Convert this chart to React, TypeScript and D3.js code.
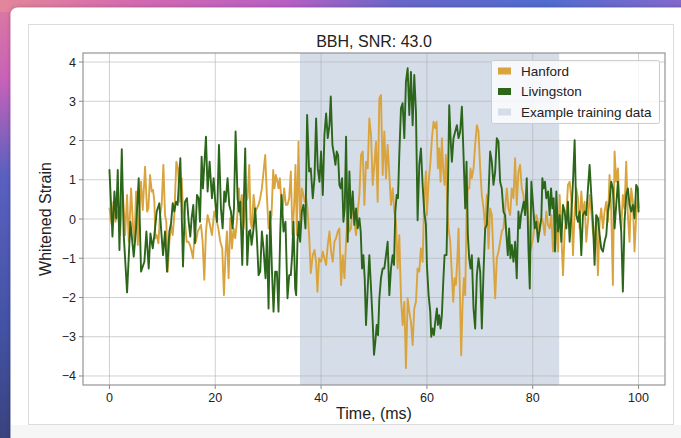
import React from 'react';
import * as d3 from 'd3';

// values (time in ms, whitened strain)
const hanfordT = [
  0, 0.44, 0.75, 1.13, 1.57, 2.01, 2.52, 2.96, 3.33, 3.65, 4.09, 4.47, 4.72, 5.03, 5.35, 5.66, 5.97, 6.29, 6.73, 7.11,
  7.36, 7.67, 7.99, 8.24, 8.49, 8.68, 8.93, 9.25, 9.56, 9.87, 10.19, 10.5, 10.75, 11.01, 11.32, 11.64, 11.95, 12.26, 12.64, 12.96,
  13.27, 13.65, 13.9, 14.28, 14.59, 14.91, 15.22, 15.53, 15.79, 16.04, 16.35, 16.67, 16.98, 17.3, 17.61, 17.92, 18.24, 18.55, 18.87, 19.37,
  19.81, 20.19, 20.57, 20.95, 21.32, 21.64, 21.95, 22.2, 22.52, 22.83, 23.15, 23.46, 23.78, 24.09, 24.47, 24.72, 25.03, 25.35, 25.73, 26.1,
  26.42, 26.67, 26.92, 27.24, 27.55, 27.87, 28.18, 28.49, 28.81, 29.12, 29.44, 29.75, 30.07, 30.38, 30.63, 30.95, 31.2, 31.45, 31.7, 31.95,
  32.2, 32.46, 32.71, 33.02, 33.34, 33.65, 33.97, 34.28, 34.59, 34.91, 35.16, 35.41, 35.73, 36.04, 36.36, 36.67, 36.92, 37.17, 37.42, 37.74,
  38.05, 38.43, 38.75, 39.06, 39.31, 39.62, 40.0, 40.32, 40.63, 40.95, 41.26, 41.58, 41.89, 42.2, 42.52, 42.83, 43.15, 43.46, 43.78, 44.09,
  44.41, 44.72, 45.03, 45.35, 45.66, 45.98, 46.29, 46.61, 46.92, 47.24, 47.55, 47.87, 48.18, 48.49, 48.81, 49.12, 49.44, 49.75, 50.07, 50.38,
  50.69, 51.01, 51.32, 51.64, 51.95, 52.27, 52.58, 52.9, 53.21, 53.53, 53.84, 54.15, 54.47, 54.78, 55.1, 55.41, 55.73, 56.04, 56.36, 56.67,
  56.98, 57.3, 57.61, 57.93, 58.24, 58.56, 58.87, 59.19, 59.5, 59.81, 60.0, 60.32, 60.63, 60.95, 61.26, 61.58, 61.83, 62.08, 62.33, 62.58,
  62.83, 63.09, 63.34, 63.59, 63.84, 64.09, 64.41, 64.72, 64.97, 65.22, 65.48, 65.73, 65.98, 66.23, 66.48, 66.73, 66.98, 67.24, 67.49, 67.74,
  67.99, 68.24, 68.49, 68.81, 69.12, 69.44, 69.75, 70.07, 70.38, 70.7, 71.01, 71.32, 71.64, 71.95, 72.27, 72.58, 72.9, 73.21, 73.53, 73.84,
  74.15, 74.47, 74.78, 75.1, 75.41, 75.73, 76.04, 76.36, 76.67, 76.98, 77.3, 77.61, 77.93, 78.24, 78.56, 78.87, 79.19, 79.5, 80.06, 80.37,
  80.69, 81.0, 81.32, 81.63, 81.95, 82.26, 82.57, 82.89, 83.2, 83.52, 83.83, 84.15, 84.46, 84.78, 85.09, 85.41, 85.72, 86.03, 86.35, 86.66,
  86.98, 87.29, 87.61, 87.92, 88.24, 88.55, 88.86, 89.18, 89.49, 89.81, 90.12, 90.44, 90.75, 91.07, 91.38, 91.69, 92.01, 92.32, 92.64, 92.95,
  93.27, 93.58, 93.9, 94.21, 94.52, 94.84, 95.15, 95.47, 95.78, 96.1, 96.41, 96.73, 97.04, 97.35, 97.67, 97.98, 98.3, 98.61, 98.93, 99.24,
  99.56, 99.87, 100,
];
const hanfordV = [
  0.27, -0.15, 0.44, -0.07, 0.19, -0.41, 0.7, -0.41, 0.61, -0.58, 0.78, -0.24, -0.58, 0.7, -0.66, 0.19, 0.95, 0.23, 1.33, 0.19,
  0.27, 1.12, 0.7, 0.74, 0.44, -0.49, -0.41, -0.62, 0.1, 0.36, 1.38, 0.1, -0.07, -1.34, -0.58, -0.15, -0.41, 0.1, 1.46, 1.29,
  0.44, 1.04, 0.19, -0.07, -0.58, -0.58, -0.66, -0.83, -1.0, -0.49, -0.58, -0.32, -0.24, -0.15, -0.58, -1.55, -0.32, 0.1, -0.07, -0.41,
  0.19, 0.02, -0.24, -0.58, -0.75, -1.94, -0.83, -0.32, -1.51, 0.02, -0.75, -0.24, -0.49, -0.07, 0.78, 0.1, 0.61, -0.24, 0.44, 0.53,
  1.38, -0.07, -0.24, 0.61, 0.19, 0.27, 0.36, 0.53, 0.78, 1.21, 1.63, 0.61, -0.24, -0.07, 0.1, 1.25, 0.78, 1.12, 0.99, 0.78,
  1.04, 0.53, 0.19, 0.78, 0.36, 0.36, 0.53, 1.21, -0.41, 0.36, 1.38, -0.41, 1.97, -0.15, 0.78, 0.61, 0.44, 0.53, 0.27, -0.41,
  -1.38, -0.92, -0.79, -1.09, -1.85, -1.0, -1.09, -0.83, -1.0, -1.17, -0.66, -0.32, -0.83, -1.09, -0.58, -0.49, -0.32, -0.24, -1.68, -0.92,
  -1.51, -0.58, 0.1, -0.32, -0.24, 0.53, -0.07, -0.41, 0.19, 0.61, 1.63, 1.72, 0.36, 1.46, 1.29, 2.56, 2.14, 0.87, 1.38, 1.97,
  0.44, 3.07, 3.16, 1.12, 2.23, 1.04, 1.89, 1.12, 0.36, 0.78, 0.19, -0.07, -1.26, -0.41, -2.02, -2.7, -2.11, -3.8, -2.02, -2.36,
  -2.62, -3.21, -2.28, -2.11, -1.26, -1.34, -0.75, -1.09, 0.53, 1.21, 0.1, 0.95, 1.38, 2.06, 2.48, 2.31, 2.48, 1.29, 1.8, 0.95,
  2.06, 1.21, 0.87, 1.63, 0.27, -0.24, -0.58, -1.43, -2.11, -1.51, -1.68, -1.09, -0.24, -1.85, -3.47, -2.19, -1.51, -1.94, 0.1, 0.78,
  0.78, 1.29, 1.04, 1.29, 1.89, 2.39, 2.23, 1.29, 0.61, 0.27, -0.24, 0.61, -0.75, 0.27, 0.1, -1.0, -2.02, -1.0, -0.83, -0.58,
  -0.32, -0.24, 0.27, 0.78, 0.27, 0.1, 0.78, 0.53, 1.55, 0.36, 1.21, 1.38, 0.78, 0.61, 0.1, 0.61, -0.07, -0.83, -0.49, -0.15,
  0.1, -0.07, -0.32, 0.02, -0.07, -0.41, 0.19, -0.15, -0.24, 0.1, -0.83, -0.58, -0.24, -0.83, 0.61, -0.41, -1.43, -0.32, 0.1, 0.87,
  0.95, 0.53, -0.92, 0.19, 0.78, 0.53, -0.24, 0.7, 0.1, 0.44, -0.58, -0.07, 0.61, 0.19, -0.32, -0.58, 0.1, -1.43, -0.07, 0.27,
  -0.24, 0.19, 0.44, -0.07, 1.12, 0.19, -1.68, 1.72, 0.95, 1.29, 0.27, -0.24, 0.61, 0.27, 1.46, 0.1, -0.58, 0.78, 0.44, -0.83,
  0.1, 0.61, 0.3,
];

const livingstonT = [
  0, 0.57, 0.94, 1.26, 1.57, 1.89, 2.33, 2.7, 3.33, 3.96, 4.59, 5.03, 5.53, 5.97, 6.6, 6.98, 7.42, 7.74, 8.18, 8.49,
  8.93, 9.43, 9.75, 10.13, 10.5, 10.88, 11.32, 11.64, 11.95, 12.26, 12.58, 12.89, 13.4, 13.9, 14.28, 14.65, 14.97, 15.28, 15.53, 15.85,
  16.16, 16.54, 16.86, 17.11, 17.42, 17.67, 18.24, 18.55, 18.93, 19.37, 19.69, 20.0, 20.32, 20.7, 21.07, 21.39, 21.7, 21.95, 22.33, 22.64,
  22.96, 23.27, 23.53, 23.84, 24.22, 24.47, 24.72, 25.1, 25.35, 25.66, 26.04, 26.36, 26.61, 26.86, 27.24, 27.55, 27.87, 28.18, 28.49, 28.81,
  29.12, 29.5, 29.75, 30.07, 30.38, 30.7, 31.01, 31.32, 31.64, 31.95, 32.27, 32.52, 32.9, 33.27, 33.65, 33.97, 34.28, 34.53, 34.78, 35.1,
  35.29, 35.54, 35.79, 36.04, 36.36, 36.67, 37.05, 37.36, 37.74, 38.05, 38.43, 38.75, 39.06, 39.37, 39.69, 40.0, 40.32, 40.63, 40.95, 41.26,
  41.58, 41.83, 42.14, 42.46, 42.71, 42.96, 43.21, 43.46, 43.71, 43.97, 44.22, 44.47, 44.72, 45.03, 45.35, 45.66, 45.98, 46.29, 46.61, 46.92,
  47.24, 47.49, 47.74, 47.99, 48.24, 48.49, 48.81, 49.12, 49.44, 49.75, 50.0, 50.25, 50.51, 50.76, 51.01, 51.32, 51.64, 51.95, 52.27, 52.58,
  52.9, 53.21, 53.53, 53.78, 54.03, 54.28, 54.53, 54.78, 55.1, 55.41, 55.73, 56.04, 56.36, 56.67, 56.98, 57.3, 57.61, 57.93, 58.24, 58.56,
  58.87, 59.19, 59.5, 59.81, 60.0, 60.32, 60.63, 60.82, 61.07, 61.32, 61.58, 61.89, 62.08, 62.33, 62.58, 62.83, 63.09, 63.34, 63.71, 63.97,
  64.22, 64.47, 64.72, 65.03, 65.35, 65.66, 65.98, 66.29, 66.61, 66.92, 67.24, 67.49, 67.74, 67.99, 68.24, 68.49, 68.81, 69.12, 69.44, 69.75,
  70.07, 70.38, 70.7, 71.01, 71.32, 71.64, 71.95, 72.27, 72.58, 72.9, 73.21, 73.53, 73.84, 74.15, 74.47, 74.78, 75.03, 75.29, 75.54, 75.79,
  76.04, 76.36, 76.67, 76.98, 77.3, 77.55, 77.8, 78.05, 78.3, 78.56, 78.87, 79.19, 79.44, 79.74, 80.06, 80.37, 80.69, 81.0, 81.32, 81.63,
  81.82, 82.07, 82.32, 82.57, 82.89, 83.2, 83.46, 83.71, 83.96, 84.21, 84.46, 84.78, 85.09, 85.41, 85.72, 86.03, 86.35, 86.66, 86.98, 87.29,
  87.61, 87.92, 88.24, 88.55, 88.86, 89.18, 89.49, 89.81, 90.12, 90.44, 90.75, 91.07, 91.38, 91.69, 92.01, 92.32, 92.64, 92.95, 93.27, 93.58,
  93.9, 94.21, 94.52, 94.84, 95.15, 95.47, 95.78, 96.1, 96.41, 96.73, 97.04, 97.35, 97.67, 97.98, 98.3, 98.61, 98.93, 99.24, 99.56, 99.87,
  100,
];
const livingstonV = [
  1.25, -0.45, 0.7, 0.02, 1.25, -0.79, 1.78, -0.41, -1.87, -0.07, -0.96, -0.24, 1.04, -1.34, -1.09, -0.32, -1.26, -0.37, -0.75, -0.41,
  0.19, 0.4, -0.24, -0.92, -0.32, -1.34, -0.32, -0.11, 0.4, 0.19, 0.44, 0.36, 1.55, -1.21, 0.44, 0.53, -0.07, -0.45, 0.02, 0.36,
  -0.62, 0.61, 0.53, -0.07, 1.59, 0.78, 2.1, 0.7, 1.46, 0.53, 1.04, 0.44, -0.07, 1.89, 0.27, -0.24, 0.7, 0.44, 1.04, 0.36,
  0.19, -0.24, 0.27, 2.23, 0.53, 0.19, 0.44, -1.17, 0.19, 1.8, -1.17, -0.32, -0.28, -0.66, -0.24, 0.27, -0.49, -1.43, -1.34, -0.32,
  -0.75, -1.51, -0.41, -2.28, 0.19, -1.26, -2.36, -1.34, -1.34, -2.36, -0.41, 0.61, -0.32, -0.07, -2.02, -1.43, -1.43, -0.92, -0.07, -1.77,
  -1.94, -0.58, -0.07, -0.58, 0.19, 0.36, -0.24, 2.65, 1.21, 1.29, 0.53, 1.04, 2.56, 1.29, 0.95, 1.72, 0.61, 2.14, 2.69, 2.06,
  2.39, 3.12, 1.89, 1.63, 1.38, 1.72, 1.63, 0.87, 0.78, 1.04, -0.07, 0.27, 2.1, -0.58, 1.21, 0.02, 0.7, -0.15, 0.27, -0.24,
  0.02, -0.32, -1.26, -0.92, -1.51, -2.7, -1.77, -0.92, -1.77, -2.62, -3.46, -3.13, -2.7, -2.96, -2.02, -1.51, -1.26, -1.26, -0.92, -0.58,
  -1.94, -1.26, -0.92, -1.17, 0.19, 0.61, 0.53, 1.63, 2.82, 2.95, 2.06, 3.5, 3.84, 2.65, 3.75, 2.39, 3.67, 2.73, -0.03, 1.38,
  1.8, 0.87, 0.19, -0.15, -1.17, -1.94, -2.36, -3.0, -2.79, -2.96, -2.62, -2.28, -2.7, -2.45, -2.79, -2.45, -1.6, -0.92, -0.92, 0.78,
  2.9, 2.06, 1.46, 2.06, 2.23, 2.39, 2.06, 2.23, 2.86, 1.63, 0.27, 1.46, -0.41, -1.0, -1.26, -0.92, -2.28, -2.79, -1.43, -1.0,
  -1.34, -2.79, -1.34, -0.24, -0.15, 0.61, 1.72, 1.46, 0.87, 1.21, 2.06, 1.97, 0.95, 0.78, 0.19, 0.1, -0.41, -0.92, -0.24, -1.0,
  -0.66, -1.09, -0.58, -1.51, 0.19, -0.24, 0.1, 0.27, 0.44, 0.1, 1.04, -0.75, -1.77, 0.95, 0.36, -0.24, -0.07, -0.58, -0.24, 0.02,
  1.04, 0.78, 0.95, 0.53, 0.7, 0.1, 0.78, 0.27, 0.53, -0.83, 0.7, -0.32, 0.1, -0.58, 0.36, 0.19, -0.24, 0.44, -0.58, 0.1,
  0.95, 2.01, 0.1, -0.07, 0.19, -0.92, 0.1, 0.19, 0.1, 0.78, 1.38, 0.61, -0.07, -1.17, 0.1, 0.02, -0.41, -0.75, -0.83, -0.58,
  -0.41, 0.19, 0.44, 0.95, 0.78, -0.24, 0.36, 0.95, 0.19, -0.32, -1.85, -0.07, 0.61, 0.78, 0.36, 0.19, 0.36, 0.02, 0.87, 0.78,
  0.19,
];

const xTicks = [0, 20, 40, 60, 80, 100];
const yTicks = [-4, -3, -2, -1, 0, 1, 2, 3, 4];
const trainingSpan = [36, 85];
const seriesNames = ['Hanford', 'Livingston', 'Example training data'];
const chartTitle = 'BBH, SNR: 43.0';

const HANFORD = '#d9a43e';
const LIVINGSTON = '#2c661b';
const SPAN = '#d5dde9';
const FONT = '"Liberation Sans", Arial, Helvetica, sans-serif';

export default function App() {
  const W = 681;
  const H = 438;
  const left = 83, right = 665, top = 53, bottom = 385;

  const x = d3.scaleLinear().domain([-5, 105]).range([left, right]);
  const y = d3.scaleLinear().domain([-4.23, 4.23]).range([bottom, top]);

  const line = d3
    .line<[number, number]>()
    .x(d => x(d[0]))
    .y(d => y(d[1]));

  const hanford = hanfordT.map((t, i) => [t, hanfordV[i]] as [number, number]);
  const livingston = livingstonT.map((t, i) => [t, livingstonV[i]] as [number, number]);

  const fmt = (v: number) => String(v).replace('-', '\u2212');

  const legendX = 491, legendY = 60;
  const legendColors = [HANFORD, LIVINGSTON, SPAN];

  return (
    <svg
      width={W}
      height={H}
      style={{ position: 'absolute', left: 0, top: 0, display: 'block' }}
      fontFamily={FONT}
    >
      <defs>
        <linearGradient id="bgLeft" x1="0" y1="0" x2="0" y2="1">
          <stop offset="0" stopColor="#de7aa0" />
          <stop offset="0.18" stopColor="#c862b8" />
          <stop offset="0.4" stopColor="#5a60c0" />
          <stop offset="0.75" stopColor="#4352a4" />
          <stop offset="1" stopColor="#3a437e" />
        </linearGradient>
        <linearGradient id="bgTop" x1="0" y1="0" x2="1" y2="0">
          <stop offset="0" stopColor="#e4869a" />
          <stop offset="0.2" stopColor="#d36ab0" />
          <stop offset="0.42" stopColor="#b85fc4" />
          <stop offset="0.58" stopColor="#6a66c8" />
          <stop offset="0.8" stopColor="#4f6dcf" />
          <stop offset="1" stopColor="#8468cc" />
        </linearGradient>
        <filter id="cardShadow" x="-5%" y="-5%" width="110%" height="110%">
          <feDropShadow dx="0" dy="0" stdDeviation="2" floodColor="#000" floodOpacity="0.25" />
        </filter>
        <clipPath id="plotClip">
          <rect x={left} y={top} width={right - left} height={bottom - top} />
        </clipPath>
      </defs>

      {/* page background */}
      <rect x={0} y={0} width={W} height={H} fill="url(#bgLeft)" />
      <rect x={0} y={0} width={W} height={12} fill="url(#bgTop)" />

      {/* card */}
      <rect x={10.5} y={7.5} width={W} height={H} rx={7} fill="#ffffff" filter="url(#cardShadow)" />
      <rect x={11} y={425} width={W} height={H - 425} fill="#f6f6f6" />
      <rect x={28.5} y={24.5} width={645} height={400} fill="#ffffff" stroke="#dcdcdc" />

      {/* training span */}
      <rect
        x={x(trainingSpan[0])}
        y={top}
        width={x(trainingSpan[1]) - x(trainingSpan[0])}
        height={bottom - top}
        fill={SPAN}
      />

      {/* grid */}
      <g stroke="#b0b0b0" strokeOpacity={0.6} strokeWidth={1}>
        {xTicks.map(t => (
          <line key={'gx' + t} x1={x(t)} x2={x(t)} y1={top} y2={bottom} />
        ))}
        {yTicks.map(t => (
          <line key={'gy' + t} x1={left} x2={right} y1={y(t)} y2={y(t)} />
        ))}
      </g>

      {/* series */}
      <g clipPath="url(#plotClip)" fill="none" strokeWidth={1.9} strokeLinejoin="round" strokeLinecap="round">
        <path d={line(hanford) as string} stroke={HANFORD} />
        <path d={line(livingston) as string} stroke={LIVINGSTON} />
      </g>

      {/* spines */}
      <rect x={left} y={top} width={right - left} height={bottom - top} fill="none" stroke="#8a8a8a" strokeWidth={1.1} />

      {/* ticks */}
      <g stroke="#8a8a8a" strokeWidth={1}>
        {xTicks.map(t => (
          <line key={'tx' + t} x1={x(t)} x2={x(t)} y1={bottom} y2={bottom + 4} />
        ))}
        {yTicks.map(t => (
          <line key={'ty' + t} x1={left - 4} x2={left} y1={y(t)} y2={y(t)} />
        ))}
      </g>
      <g fontSize={12.5} fill="#222">
        {xTicks.map(t => (
          <text key={'lx' + t} x={x(t)} y={bottom + 17} textAnchor="middle">
            {fmt(t)}
          </text>
        ))}
        {yTicks.map(t => (
          <text key={'ly' + t} x={left - 7} y={y(t) + 4.5} textAnchor="end">
            {fmt(t)}
          </text>
        ))}
      </g>

      {/* titles */}
      <text x={(left + right) / 2} y={47} textAnchor="middle" fontSize={16} fill="#222">
        {chartTitle}
      </text>
      <text x={(left + right) / 2} y={419} textAnchor="middle" fontSize={16} fill="#222">
        Time, (ms)
      </text>
      <text
        transform={`translate(51, ${(top + bottom) / 2}) rotate(-90)`}
        textAnchor="middle"
        fontSize={16}
        fill="#222"
      >
        Whitened Strain
      </text>

      {/* legend */}
      <g transform={`translate(${legendX}, ${legendY})`}>
        <rect x={0.5} y={0.5} width={168} height={63} rx={2} fill="#ffffff" fillOpacity={0.8} stroke="#cccccc" />
        {seriesNames.map((name, i) => (
          <g key={name} transform={`translate(0, ${11 + i * 20.5})`}>
            <rect x={7} y={-3.5} width={13} height={7} fill={legendColors[i]} />
            <text x={30} y={4.5} fontSize={13.5} fill="#222">
              {name}
            </text>
          </g>
        ))}
      </g>
    </svg>
  );
}
